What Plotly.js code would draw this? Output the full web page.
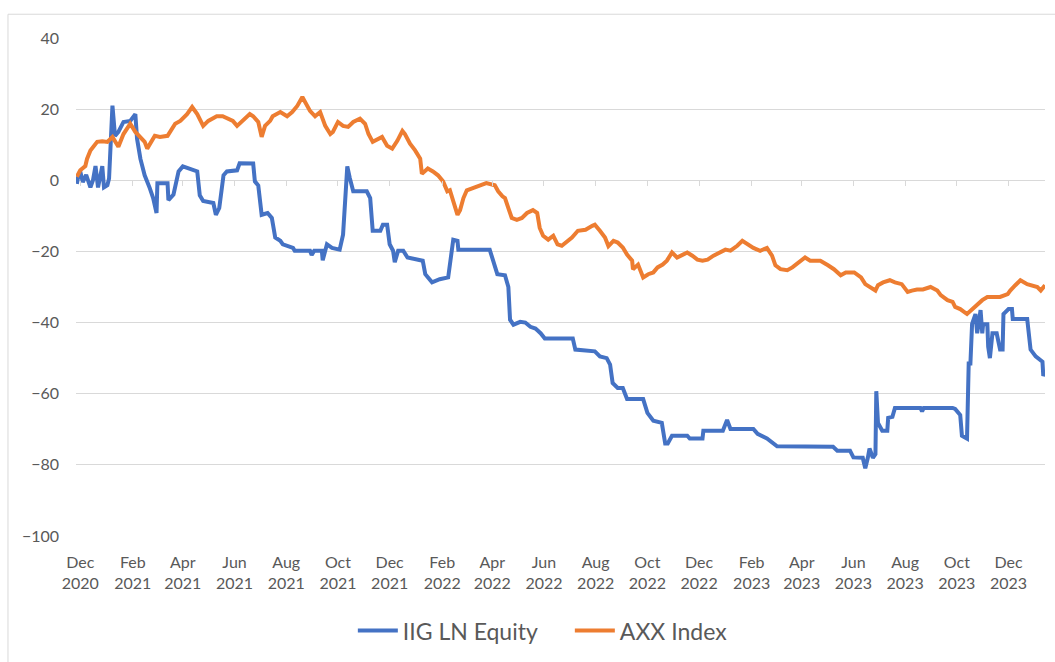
<!DOCTYPE html>
<html>
<head>
<meta charset="utf-8">
<script src="https://cdn.plot.ly/plotly-3.0.1.min.js"></script>
<style>
  html, body { margin: 0; padding: 0; background: #ffffff; }
  #chart { width: 1055px; height: 662px; }
</style>
</head>
<body>
<div id="chart"></div>
<script>
// ---- Data ----
const seriesNames = ["IIG LN Equity", "AXX Index"];

const iigDates = [
  "2020-11-27","2020-11-29","2020-12-01","2020-12-04","2020-12-08","2020-12-13","2020-12-16","2020-12-19","2020-12-22","2020-12-25","2020-12-27","2020-12-29",
  "2021-01-02","2021-01-04","2021-01-08","2021-01-11","2021-01-15","2021-01-21","2021-01-29","2021-02-04","2021-02-06","2021-02-10","2021-02-15","2021-02-21","2021-02-25",
  "2021-03-01","2021-03-02","2021-03-14","2021-03-15","2021-03-21","2021-03-27","2021-04-01","2021-04-12","2021-04-18","2021-04-21","2021-04-25",
  "2021-05-07","2021-05-10","2021-05-14","2021-05-19","2021-05-23","2021-06-04","2021-06-07","2021-06-23","2021-06-25","2021-06-29",
  "2021-07-03","2021-07-10","2021-07-15","2021-07-19","2021-07-25","2021-07-28","2021-08-09","2021-08-11","2021-08-29","2021-08-31",
  "2021-09-03","2021-09-12","2021-09-13","2021-09-16","2021-09-18","2021-09-24","2021-10-03","2021-10-07","2021-10-12","2021-10-15","2021-10-19",
  "2021-11-04","2021-11-08","2021-11-11","2021-11-20","2021-11-23","2021-11-28","2021-12-01","2021-12-05","2021-12-07","2021-12-11","2021-12-17","2021-12-22",
  "2022-01-09","2022-01-12","2022-01-20","2022-01-29","2022-02-08","2022-02-10","2022-02-14","2022-02-19","2022-02-20","2022-03-29",
  "2022-04-02","2022-04-07","2022-04-16","2022-04-20","2022-04-22","2022-04-26","2022-05-04","2022-05-10","2022-05-16","2022-05-22","2022-05-28",
  "2022-06-02","2022-07-05","2022-07-08","2022-07-31","2022-08-06","2022-08-14","2022-08-18","2022-08-21","2022-08-27","2022-09-02","2022-09-07","2022-09-26",
  "2022-10-01","2022-10-08","2022-10-18","2022-10-22","2022-10-25","2022-10-30","2022-11-17","2022-11-20","2022-12-05","2022-12-06","2022-12-29",
  "2023-01-03","2023-01-07","2023-02-03","2023-02-08","2023-02-19","2023-02-26","2023-03-03","2023-05-08","2023-05-13","2023-05-28",
  "2023-06-01","2023-06-12","2023-06-15","2023-06-18","2023-06-20","2023-06-24","2023-06-27","2023-06-28","2023-06-30",
  "2023-07-05","2023-07-11","2023-07-12","2023-07-17","2023-07-20","2023-08-19","2023-08-21","2023-08-23","2023-09-26","2023-09-29",
  "2023-10-05","2023-10-07","2023-10-13","2023-10-15","2023-10-17","2023-10-18","2023-10-19","2023-10-23","2023-10-25","2023-10-29","2023-10-31",
  "2023-11-01","2023-11-06","2023-11-07","2023-11-09","2023-11-12","2023-11-17","2023-11-21","2023-11-24","2023-11-25",
  "2023-12-01","2023-12-05","2023-12-06","2023-12-23","2023-12-24","2023-12-27",
  "2024-01-02","2024-01-05","2024-01-10","2024-01-11","2024-01-13"
];
const iigValues = [
  -1, 1.5, 2.5, -0.5, 1.5, -2, 0, 4, -2, 1, 4, -2,
  -1.4, 0.5, 21, 12.5, 13.6, 16.4, 16.7, 18.6, 11.7, 6, 1.4, -2.2, -5,
  -9.2, -0.8, -0.8, -5.6, -4, 2.5, 3.9, 2.8, 2.5, -4.2, -5.8,
  -6.4, -9.7, -7.8, 1.4, 2.5, 2.8, 4.8, 4.7, -0.3, -1.5,
  -9.7, -9.2, -10.6, -16.1, -17, -18, -19, -19.8, -19.8, -21,
  -19.8, -19.8, -22.5, -19.8, -18, -19, -19.5, -15.3, 3.9, 0.6, -3.1,
  -3.1, -5, -14.2, -14.2, -12.5, -12.5, -18, -19.8, -23, -19.8, -19.8, -21.7,
  -22.6, -26.4, -28.7, -27.8, -27.3, -24, -16.7, -17, -19.5, -19.5,
  -23, -26.4, -26.7, -30, -39.2, -40.6, -39.8, -40, -41.2, -41.7, -43,
  -44.5, -44.5, -47.6, -48.1, -49.5, -50, -51.8, -57, -58.4, -58.4, -61.5, -61.5,
  -65.4, -67.6, -68.2, -74, -74, -71.8, -71.8, -72.6, -72.6, -70.4, -70.4,
  -67.4, -69.9, -69.9, -71.3, -72.6, -73.7, -74.8, -74.9, -76, -76,
  -77.9, -78, -81, -78, -75.4, -78, -77, -59.3, -68.2,
  -70.4, -70.4, -66.8, -66.5, -64, -64, -65, -64, -64, -64.3,
  -66, -71.8, -72.6, -51.5, -51.5, -47.6, -40.4, -37.6, -43, -36.5, -43,
  -40.5, -40.5, -46.8, -50, -43, -43, -47.6, -47.6, -37.6,
  -36.2, -36.2, -39, -39, -42, -47.6,
  -49.5, -50, -51, -55, -54
];

const axxDates = [
  "2020-11-27","2020-12-01","2020-12-07","2020-12-09","2020-12-13","2020-12-21","2020-12-27",
  "2021-01-02","2021-01-08","2021-01-11","2021-01-15","2021-01-21","2021-01-29","2021-02-04","2021-02-10","2021-02-15","2021-02-18","2021-02-21","2021-02-27",
  "2021-03-05","2021-03-14","2021-03-23","2021-03-29","2021-04-06","2021-04-12","2021-04-18","2021-04-25","2021-05-01","2021-05-11","2021-05-18","2021-05-30",
  "2021-06-04","2021-06-11","2021-06-19","2021-06-23","2021-06-29","2021-07-03","2021-07-07","2021-07-13","2021-07-16","2021-07-25",
  "2021-08-02","2021-08-08","2021-08-14","2021-08-20","2021-08-23","2021-08-29","2021-09-04","2021-09-10","2021-09-16","2021-09-22","2021-09-25",
  "2021-10-01","2021-10-07","2021-10-13","2021-10-19","2021-10-27","2021-11-02","2021-11-06","2021-11-11","2021-11-17","2021-11-22","2021-11-28",
  "2021-12-04","2021-12-10","2021-12-16","2021-12-19","2021-12-25","2021-12-31",
  "2022-01-06","2022-01-08","2022-01-15","2022-01-21","2022-01-27","2022-02-02","2022-02-07","2022-02-10","2022-02-14","2022-02-19","2022-02-22","2022-02-26",
  "2022-03-02","2022-03-09","2022-03-17","2022-03-25","2022-04-04","2022-04-08","2022-04-13","2022-04-16","2022-04-20","2022-04-24","2022-04-30",
  "2022-05-06","2022-05-12","2022-05-19","2022-05-24","2022-05-27","2022-05-31","2022-06-06","2022-06-12","2022-06-17","2022-06-22","2022-06-28",
  "2022-07-04","2022-07-11","2022-07-20","2022-07-28","2022-07-31","2022-08-06","2022-08-12","2022-08-16","2022-08-22","2022-08-27",
  "2022-09-02","2022-09-07","2022-09-13","2022-09-14","2022-09-20","2022-09-26","2022-10-02","2022-10-08","2022-10-13","2022-10-19","2022-10-24","2022-10-30",
  "2022-11-05","2022-11-12","2022-11-17","2022-11-23","2022-11-29","2022-12-05","2022-12-11","2022-12-18","2022-12-26",
  "2023-01-01","2023-01-07","2023-01-15","2023-01-21","2023-01-27","2023-02-03","2023-02-11","2023-02-19","2023-02-25",
  "2023-03-01","2023-03-07","2023-03-15","2023-03-21","2023-03-28","2023-03-30","2023-04-05","2023-04-11","2023-04-23",
  "2023-05-02","2023-05-09","2023-05-17","2023-05-23","2023-06-02","2023-06-10","2023-06-15","2023-06-21","2023-06-27","2023-06-30",
  "2023-07-06","2023-07-14","2023-07-20","2023-07-28","2023-08-04","2023-08-09","2023-08-15","2023-08-22","2023-08-31",
  "2023-09-08","2023-09-12","2023-09-20","2023-09-26","2023-09-29","2023-10-05","2023-10-13","2023-10-19","2023-10-25","2023-10-31",
  "2023-11-06","2023-11-13","2023-11-21","2023-11-30","2023-12-03","2023-12-09","2023-12-15","2023-12-23","2023-12-29",
  "2024-01-04","2024-01-08","2024-01-11","2024-01-13"
];
const axxValues = [
  1, 2.8, 4, 6, 8.4, 10.8, 11,
  10.8, 12.2, 10.8, 9.4, 13, 15.9, 13.6, 12.2, 10.8, 8.9, 10.3, 12.5,
  12.2, 12.5, 15.9, 16.7, 18.6, 20.6, 18.6, 15.3, 16.7, 18, 18, 16.7,
  15.3, 16.7, 18.6, 18, 16.4, 12.2, 15.3, 16.7, 18, 19.2,
  18, 19.2, 20.9, 23.4, 22, 19.5, 18, 19.2, 15.3, 13, 13.6,
  16.4, 15.3, 15, 16.4, 17.3, 15.9, 13, 10.8, 11.7, 12.2, 9.7,
  8.9, 11.1, 13.9, 13, 10.3, 8.4,
  6.1, 1.8, 3.3, 2.5, 1.4, -0.3, -3.1, -2.8, -5.8, -9.7, -8.4, -5,
  -2.8, -2.2, -1.7, -0.8, -1.4, -3.1, -4.5, -5, -7.8, -10.6, -11.1,
  -10.6, -9.2, -8.4, -9.2, -13.4, -15.6, -16.7, -15.6, -18, -18.4, -17.3,
  -16.1, -14.2, -13.9, -12.8, -12.5, -14.2, -16.1, -18.5, -17, -17.5,
  -18.9, -20.9, -22.6, -25, -23.7, -27.3, -26.4, -25.9, -24.5, -23.7, -22.6, -20.3,
  -21.7, -20.9, -20.3, -21.2, -22.3, -22.6, -22.3, -21.2, -20.3,
  -19.5, -19.8, -18.4, -17, -18, -19, -19.8, -19, -21.2,
  -23.9, -25, -25.3, -24.5, -23.1, -22.6, -21.7, -22.6, -22.6,
  -23.9, -25, -26.7, -25.9, -25.9, -27.3, -29.2, -30, -31, -29.5,
  -28.7, -28.1, -28.7, -29.2, -31.4, -31, -30.7, -30.7, -30,
  -31, -32.3, -33.7, -34.2, -35.6, -36.2, -37.6, -36.2, -34.8, -33.7,
  -32.8, -32.8, -32.8, -32, -31, -29.5, -28.1, -29.2, -29.5,
  -30, -31, -30, -29.5
];

const tickDates = ["2020-12-01","2021-02-01","2021-04-01","2021-06-01","2021-08-01","2021-10-01","2021-12-01",
  "2022-02-01","2022-04-01","2022-06-01","2022-08-01","2022-10-01","2022-12-01",
  "2023-02-01","2023-04-01","2023-06-01","2023-08-01","2023-10-01","2023-12-01"];
const tickLabels = ["Dec<br>2020","Feb<br>2021","Apr<br>2021","Jun<br>2021","Aug<br>2021","Oct<br>2021","Dec<br>2021",
  "Feb<br>2022","Apr<br>2022","Jun<br>2022","Aug<br>2022","Oct<br>2022","Dec<br>2022",
  "Feb<br>2023","Apr<br>2023","Jun<br>2023","Aug<br>2023","Oct<br>2023","Dec<br>2023"];
const yTicks = [-100, -80, -60, -40, -20, 0, 20, 40];

// ---- Chart ----
const xRange = ["2020-11-26", "2024-01-13"];
const fontFam = "Lato, 'Open Sans', sans-serif";
const textCol = "#595959";
const gridCol = "#d9d9d9";

const traces = [
  { x: iigDates, y: iigValues, name: seriesNames[0], type: "scatter", mode: "lines",
    line: { color: "#4472C4", width: 4 }, hoverinfo: "x+y" },
  { x: axxDates, y: axxValues, name: seriesNames[1], type: "scatter", mode: "lines",
    line: { color: "#ED7D31", width: 4 }, hoverinfo: "x+y" },
  { x: [], y: [], xaxis: "x2", yaxis: "y", showlegend: false, hoverinfo: "skip", type: "scatter", mode: "lines" }
];

const layout = {
  width: 1055, height: 662,
  margin: { l: 76, r: 10, t: 38, b: 121 },
  paper_bgcolor: "#ffffff", plot_bgcolor: "#ffffff",
  font: { family: fontFam, color: textCol, size: 15 },
  showlegend: true,
  legend: {
    orientation: "h", x: 0.2857, xanchor: "left", y: -0.19, yanchor: "middle",
    entrywidth: 162, entrywidthmode: "pixels",
    font: { family: fontFam, size: 23, color: textCol }, itemwidth: 40, traceorder: "normal"
  },
  xaxis: {
    type: "date", range: xRange, tickmode: "array", tickvals: tickDates, ticktext: tickLabels,
    showgrid: false, zeroline: false, showline: false, ticks: "",
    tickfont: { family: fontFam, size: 16, color: textCol }, ticklabelstandoff: 15
  },
  xaxis2: {
    type: "date", range: xRange, overlaying: "x", anchor: "free", position: 100 / 140, side: "bottom",
    tickmode: "array", tickvals: tickDates, showticklabels: false,
    ticks: "outside", ticklen: 5, tickwidth: 1, tickcolor: gridCol,
    showgrid: false, zeroline: false, showline: false
  },
  yaxis: {
    range: [-100, 40], tickmode: "array", tickvals: yTicks,
    showgrid: true, gridcolor: gridCol, gridwidth: 1, zeroline: false, showline: false, ticks: "",
    tickfont: { family: fontFam, size: 16, color: textCol }, ticklabelstandoff: 16
  },
  shapes: [
    { type: "rect", xref: "paper", yref: "paper", x0: -0.0702, x1: 1.2, y0: -0.5, y1: 1.0477,
      line: { color: gridCol, width: 1 }, fillcolor: "rgba(0,0,0,0)", layer: "below" }
  ]
};

Plotly.newPlot("chart", traces, layout, { displayModeBar: false, staticPlot: true });
</script>
</body>
</html>
